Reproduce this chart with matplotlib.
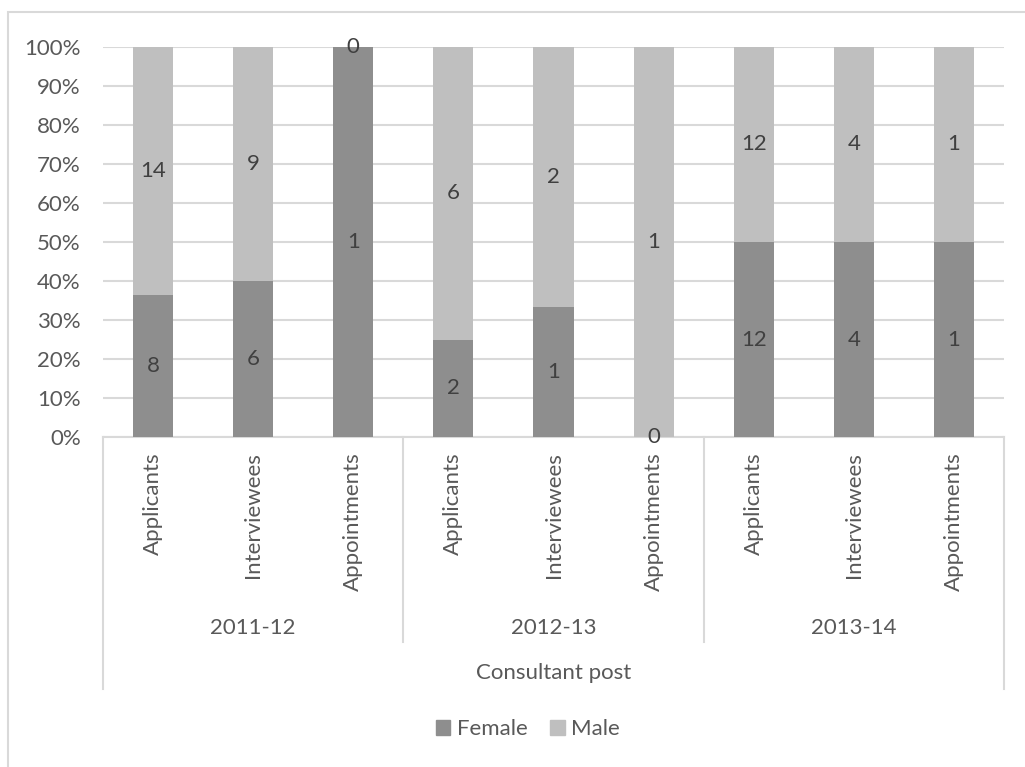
import matplotlib.pyplot as plt
import matplotlib.transforms as mtransforms
from matplotlib.patches import Rectangle, Patch
from matplotlib.lines import Line2D
import numpy as np

plt.rcParams['font.family'] = ['Lato', 'DejaVu Sans']

years = ["2011-12", "2012-13", "2013-14"]
stages = ["Applicants", "Interviewees", "Appointments"]
female = [8, 6, 1, 2, 1, 0, 12, 4, 1]
male = [14, 9, 0, 6, 2, 1, 12, 4, 1]
group_title = "Consultant post"

FEMALE_C = "#8e8e8e"
MALE_C = "#bfbfbf"
TEXT_C = "#595959"
GRID_C = "#d9d9d9"
FS = 16

W, H = 1025, 767
fig = plt.figure(figsize=(W / 100, H / 100), dpi=100)

def fx(px):
    return px / W

def fy(py):
    return 1 - py / H

# chart border (only top and left fall inside the image)
fig.patches.append(Rectangle((fx(8), fy(800)), fx(1100), fy(12) - fy(800),
                             transform=fig.transFigure, fill=False,
                             edgecolor=GRID_C, linewidth=1.5))

ax = fig.add_axes([fx(103), fy(437), fx(1004) - fx(103), fy(47) - fy(437)])

f = np.array(female, dtype=float)
m = np.array(male, dtype=float)
tot = f + m
fp = f / tot * 100
mp = m / tot * 100
x = np.arange(len(female))

ax.bar(x, fp, width=0.4, color=FEMALE_C, zorder=3, label="Female")
ax.bar(x, mp, width=0.4, bottom=fp, color=MALE_C, zorder=3, label="Male")

for i in range(len(x)):
    ax.text(x[i], fp[i] / 2, str(female[i]), ha="center", va="center",
            fontsize=FS, color="#404040", zorder=4)
    ax.text(x[i], fp[i] + mp[i] / 2, str(male[i]), ha="center", va="center",
            fontsize=FS, color="#404040", zorder=4)

ax.set_xlim(-0.5, len(x) - 0.5)
ax.set_ylim(0, 100)
ax.set_yticks(np.arange(0, 101, 10))
ax.set_yticklabels([f"{v}%" for v in range(0, 101, 10)])
ax.yaxis.grid(True, color=GRID_C, linewidth=1.5, zorder=0)
ax.tick_params(axis="y", length=0, pad=16, labelsize=FS, labelcolor=TEXT_C)

ax.set_xticks(x)
ax.set_xticklabels(stages * len(years), rotation=90, va="top", ha="center")
ax.tick_params(axis="x", length=0, pad=11, labelsize=FS, labelcolor=TEXT_C)

for s in ["top", "right", "left"]:
    ax.spines[s].set_visible(False)
ax.spines["bottom"].set_color(GRID_C)
ax.spines["bottom"].set_linewidth(1.5)

# multi-level category axis
trans = mtransforms.blended_transform_factory(ax.transData, fig.transFigure)
n = len(stages)
for k in range(len(years) + 1):
    xb = k * n - 0.5
    bottom = 689 if k in (0, len(years)) else 642
    fig.add_artist(Line2D([xb, xb], [fy(437), fy(bottom)], transform=trans,
                          color=GRID_C, linewidth=1.5))
for k, yr in enumerate(years):
    ax.text(k * n + (n - 1) / 2, fy(628), yr, transform=trans, ha="center",
            va="center", fontsize=FS, color=TEXT_C)
ax.text((len(x) - 1) / 2, fy(673), group_title, transform=trans, ha="center",
        va="center", fontsize=FS, color=TEXT_C)

handles = [Patch(color=FEMALE_C, label="Female"), Patch(color=MALE_C, label="Male")]
fig.legend(handles=handles, loc="center", bbox_to_anchor=(fx(528), fy(729)),
           ncol=2, frameon=False, fontsize=FS, labelcolor=TEXT_C,
           handlelength=0.65, handleheight=0.65, handletextpad=0.3,
           columnspacing=1.0)

fig.savefig("out.png", dpi=100)
